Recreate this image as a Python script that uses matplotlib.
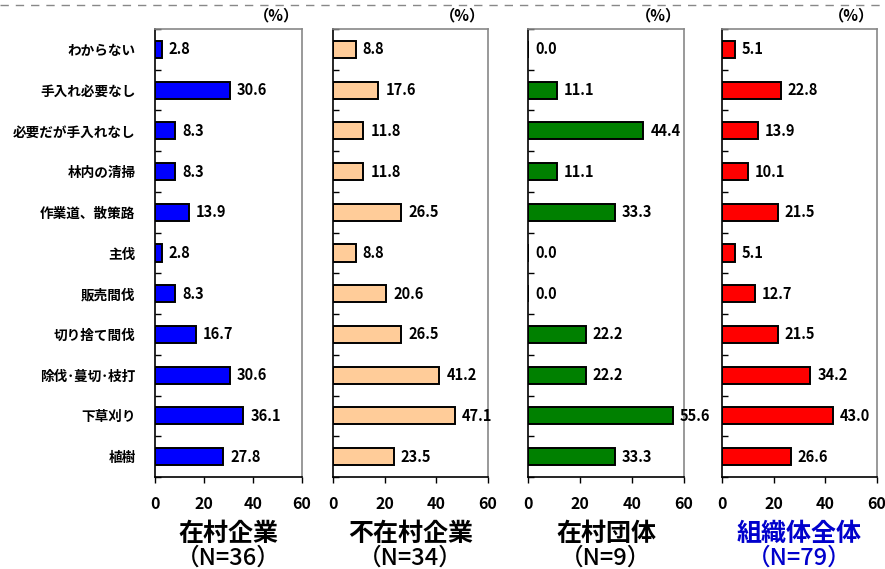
import numpy as np
import matplotlib.pyplot as plt
from matplotlib.lines import Line2D

plt.rcParams['font.family'] = ['Noto Sans CJK JP', 'DejaVu Sans']

categories = ['わからない', '手入れ必要なし', '必要だが手入れなし', '林内の清掃',
              '作業道、散策路', '主伐', '販売間伐', '切り捨て間伐',
              '除伐･蔓切･枝打', '下草刈り', '植樹']

zaison_kigyo = [2.8, 30.6, 8.3, 8.3, 13.9, 2.8, 8.3, 16.7, 30.6, 36.1, 27.8]
fuzaison_kigyo = [8.8, 17.6, 11.8, 11.8, 26.5, 8.8, 20.6, 26.5, 41.2, 47.1, 23.5]
zaison_dantai = [0.0, 11.1, 44.4, 11.1, 33.3, 0.0, 0.0, 22.2, 22.2, 55.6, 33.3]
zentai = [5.1, 22.8, 13.9, 10.1, 21.5, 5.1, 12.7, 21.5, 34.2, 43.0, 26.6]

group_names = ['在村企業', '不在村企業', '在村団体', '組織体全体']
group_n = ['（N=36）', '（N=34）', '（N=9）', '（N=79）']
series = [zaison_kigyo, fuzaison_kigyo, zaison_dantai, zentai]
colors = ['#0000FF', '#FFCC99', '#008000', '#FF0000']
title_colors = ['black', 'black', 'black', '#0000CC']

W, H = 885, 569
fig = plt.figure(figsize=(W / 100, H / 100), dpi=100)

# dashed separator along the top
fig.add_artist(Line2D([0, 1], [1 - 5 / H, 1 - 5 / H], transform=fig.transFigure,
                      color='#888888', lw=1, ls=(0, (6, 5))))

lefts = [155, 333, 528, 722]
widths = [147, 155, 156, 155]
top, bottom = 29, 477
y = np.arange(len(categories))

for i, (vals, col) in enumerate(zip(series, colors)):
    ax = fig.add_axes([lefts[i] / W, 1 - bottom / H, widths[i] / W, (bottom - top) / H])
    ax.barh(y, vals, height=0.42, color=col, edgecolor='black', lw=1.4)
    for yi, v in zip(y, vals):
        ax.annotate(f'{v:.1f}', (v, yi), xytext=(5, 0), textcoords='offset points',
                    va='center', ha='left', fontsize=10.5, fontweight='bold')
    ax.set_xlim(0, 60)
    ax.set_ylim(len(categories) - 0.5, -0.5)
    ax.set_xticks([0, 20, 40, 60])
    ax.tick_params(axis='x', direction='out', length=4, width=1, pad=10,
                   labelsize=11.5)
    for lab in ax.get_xticklabels():
        lab.set_fontweight('bold')
    ax.set_yticks(y)
    ax.set_yticks(np.arange(len(categories) + 1) - 0.5, minor=True)
    ax.tick_params(axis='y', which='major', length=0, pad=14)
    ax.tick_params(axis='y', which='minor', direction='in', length=4, width=1)
    if i == 0:
        ax.set_yticklabels(categories, fontsize=9.8, fontweight='bold')
    else:
        ax.set_yticklabels([])
    for s in ['left', 'bottom']:
        ax.spines[s].set_color('black')
        ax.spines[s].set_linewidth(1.2)
    for s in ['top', 'right']:
        ax.spines[s].set_color('#888888')
        ax.spines[s].set_linewidth(1.2)
    ax.text(0.98, 1.012, '（%）', transform=ax.transAxes, ha='right', va='bottom',
            fontsize=11, fontweight='bold')
    cx = (lefts[i] + widths[i] / 2) / W
    fig.text(cx, 1 - 534 / H, group_names[i], ha='center', va='center',
             fontsize=18, fontweight='bold', color=title_colors[i])
    fig.text(cx, 1 - 558 / H, group_n[i], ha='center', va='center',
             fontsize=17, fontweight='medium', color=title_colors[i])

fig.savefig('out.png', dpi=100)
